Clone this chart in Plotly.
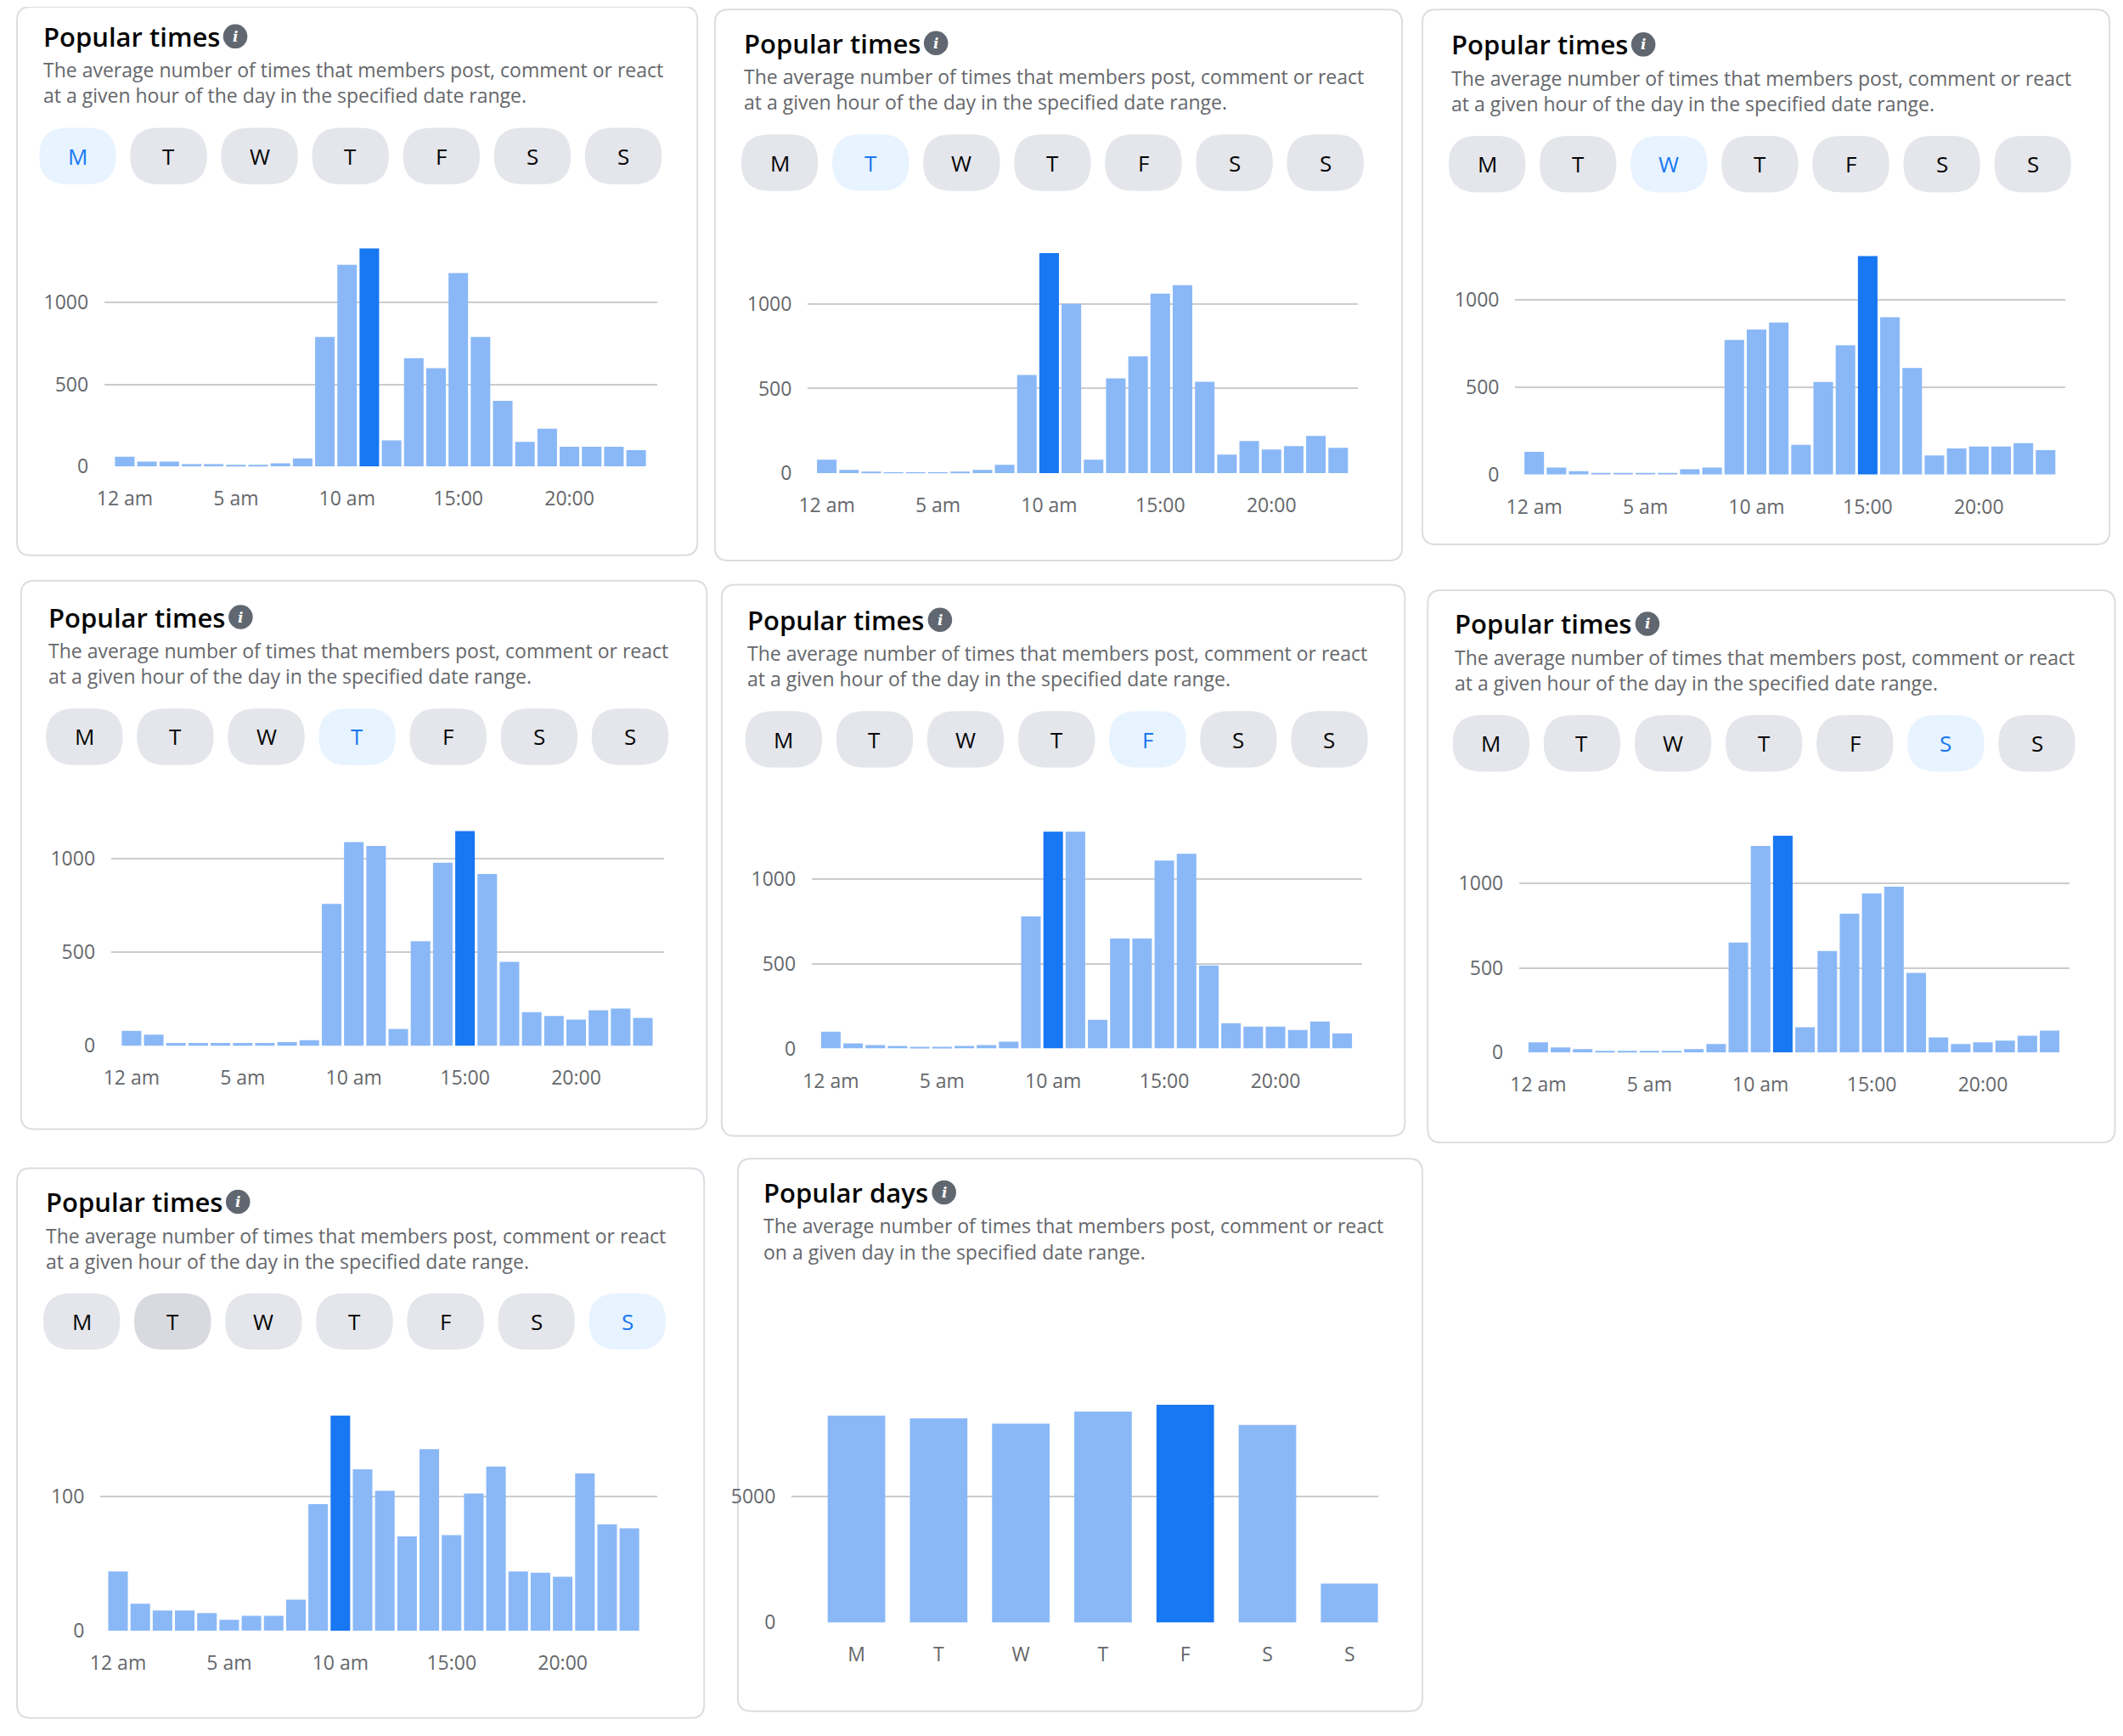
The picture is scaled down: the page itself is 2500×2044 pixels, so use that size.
import plotly.graph_objects as go

# displayed-pixel layout converted to the 2500x2044 canvas
S = 2500 / 1568
W, H = 1568, 2044 / S

hours = list(range(24))
hour_ticks = [0, 5, 10, 15, 20]
hour_labels = ['12 am', '5 am', '10 am', '15:00', '20:00']
day_buttons = ['M', 'T', 'W', 'T', 'F', 'S', 'S']

mon = [60, 30, 30, 15, 15, 10, 10, 20, 50, 790, 1230, 1330, 160, 660, 600, 1180, 790, 400, 150, 230, 120, 120, 120, 100]
tue = [80, 20, 10, 5, 5, 5, 10, 20, 50, 580, 1300, 1000, 80, 560, 690, 1060, 1110, 540, 110, 190, 140, 160, 220, 150]
wed = [130, 40, 20, 10, 10, 10, 10, 30, 40, 770, 830, 870, 170, 530, 740, 1250, 900, 610, 110, 150, 160, 160, 180, 140]
thu = [80, 60, 15, 15, 15, 15, 15, 20, 30, 760, 1090, 1070, 90, 560, 980, 1150, 920, 450, 180, 160, 140, 190, 200, 150]
fri = [100, 30, 20, 15, 10, 10, 15, 20, 40, 780, 1280, 1280, 170, 650, 650, 1110, 1150, 490, 150, 130, 130, 110, 160, 90]
sat = [60, 30, 20, 10, 10, 10, 10, 20, 50, 650, 1220, 1280, 150, 600, 820, 940, 980, 470, 90, 50, 60, 70, 100, 130]
sun = [44, 20, 15, 15, 13, 8, 11, 11, 23, 94, 160, 120, 104, 70, 135, 71, 102, 122, 44, 43, 40, 117, 79, 76]
peak_hours = [11, 10, 15, 15, 10, 11, 10]

days = ['M', 'T', 'W', 'T', 'F', 'S', 'S']
day_totals = [8190, 8080, 7870, 8350, 8620, 7820, 1540]
peak_day = 4

LIGHT = '#8AB8F7'
DARK = '#1877F2'
GREY = '#65676B'
FONT = 'Open Sans'

# panel geometry in displayed pixels
panels = [
    dict(card=(0, 0, 505, 408), tx=18, ty=22, by=111, bx=45, g0=65, g1=475, h0=80, base=342, tp=220),
    dict(card=(518, 2, 1028, 412), tx=538, ty=27, by=116, bx=566, g0=587, g1=995, h0=601, base=347, tp=221),
    dict(card=(1043, 2, 1553, 400), tx=1063, ty=28, by=117, bx=1091, g0=1112, g1=1520, h0=1126, base=348, tp=218),
    dict(card=(3, 427, 512, 835), tx=22, ty=454, by=543, bx=50, g0=70, g1=480, h0=85, base=773, tp=634),
    dict(card=(523, 430, 1030, 840), tx=541, ty=456, by=545, bx=569, g0=590, g1=998, h0=604, base=775, tp=649),
    dict(card=(1047, 434, 1557, 845), tx=1066, ty=459, by=548, bx=1094, g0=1115, g1=1523, h0=1129, base=778, tp=652),
    dict(card=(0, 864, 510, 1273), tx=20, ty=889, by=978, bx=48, g0=62, g1=475, h0=75, base=1208, tp=1108),
]
series = [mon, tue, wed, thu, fri, sat, sun]


def px(x):
    return x / W


def py(y):
    return 1 - y / H


def rrect(x0, y0, x1, y1, r):
    rx, ry = r / W, r / H
    a, b, c, d = px(x0), py(y1), px(x1), py(y0)
    return (f'M {a+rx},{b} L {c-rx},{b} Q {c},{b} {c},{b+ry} L {c},{d-ry} Q {c},{d} {c-rx},{d} '
            f'L {a+rx},{d} Q {a},{d} {a},{d-ry} L {a},{b+ry} Q {a},{b} {a+rx},{b} Z')


def note(x, y, text, font, xanchor='center'):
    return dict(x=x, y=y, xref='paper', yref='paper', text=text, showarrow=False,
                xanchor=xanchor, yanchor='middle', font=font)


fig = go.Figure()
shapes, annots, layout = [], [], {}


def header(p, title, sub2):
    x0, y0, x1, y1 = p['card']
    shapes.append(dict(type='path', path=rrect(x0, y0, x1, y1, 10), xref='paper', yref='paper',
                       line=dict(color='#DADDE1', width=2), fillcolor='white', layer='below'))
    annots.append(note(px(p['tx']), py(p['ty']), title,
                       dict(family=FONT, size=31, color='#050505', weight=600), 'left'))
    ix = p['tx'] + (144 if 'times' in title else 135)
    shapes.append(dict(type='circle', xref='paper', yref='paper', x0=px(ix - 9), x1=px(ix + 9),
                       y0=py(p['ty'] + 9), y1=py(p['ty'] - 9), fillcolor='#606770', line=dict(width=0)))
    annots.append(note(px(ix), py(p['ty']), '<i><b>i</b></i>',
                       dict(family='DejaVu Serif', size=17, color='white')))
    for k, line in enumerate(['The average number of times that members post, comment or react', sub2]):
        annots.append(note(px(p['tx']), py(p['ty'] + 25 + 19 * k), line,
                           dict(family=FONT, size=23, color=GREY), 'left'))


for i, (p, vals) in enumerate(zip(panels, series)):
    n = i + 1
    header(p, 'Popular times', 'at a given hour of the day in the specified date range.')
    for j, d in enumerate(day_buttons):
        cx = p['bx'] + 67.5 * j
        sel = j == i
        fill = '#E7F3FF' if sel else ('#D8DADF' if (i == 6 and j == 1) else '#E4E6EB')
        shapes.append(dict(type='path', path=rrect(cx - 28.5, p['by'] - 21, cx + 28.5, p['by'] + 21, 21),
                           xref='paper', yref='paper', fillcolor=fill, line=dict(width=0)))
        annots.append(note(px(cx), py(p['by']), d,
                           dict(family=FONT, size=26, color=DARK if sel else '#050505', weight=500)))
    step = 100 if i == 6 else 500
    unit = (p['base'] - p['tp']) / (100 if i == 6 else 1000)
    top = p['base'] - 165 if i != 6 else p['base'] - 175
    ymax = (p['base'] - top) / unit
    colors = [DARK if h == peak_hours[i] else LIGHT for h in hours]
    fig.add_bar(x=hours, y=vals, marker=dict(color=colors, line=dict(width=0)), width=0.88,
                xaxis=f'x{n}', yaxis=f'y{n}', showlegend=False)
    dh = 16.5
    layout[f'xaxis{n}'] = dict(domain=[px(p['g0']), px(p['g1'])], anchor=f'y{n}',
                               range=[(p['g0'] - p['h0']) / dh, (p['g1'] - p['h0']) / dh],
                               tickvals=hour_ticks, ticktext=hour_labels, showgrid=False, zeroline=False,
                               showline=False, ticks='', ticklabelstandoff=22,
                               tickfont=dict(family=FONT, size=23, color=GREY))
    layout[f'yaxis{n}'] = dict(domain=[py(p['base']), py(top)], anchor=f'x{n}', range=[0, ymax],
                               dtick=step, showgrid=True, gridcolor='#CCCCCC', gridwidth=1.5,
                               zeroline=False, ticks='', ticklabelstandoff=18,
                               tickfont=dict(family=FONT, size=23, color=GREY))

# popular days panel
p8 = dict(card=(535, 857, 1043, 1268), tx=553, ty=882)
header(p8, 'Popular days', 'on a given day in the specified date range.')
colors = [DARK if k == peak_day else LIGHT for k in range(7)]
fig.add_bar(x=list(range(7)), y=day_totals, marker=dict(color=colors, line=dict(width=0)), width=0.7,
            xaxis='x8', yaxis='y8', showlegend=False)
base8, tp8 = 1202, 1108
top8 = 1030
layout['xaxis8'] = dict(domain=[px(575), px(1010)], anchor='y8', range=[(575 - 623) / 61, (1010 - 623) / 61],
                        tickvals=list(range(7)), ticktext=days, showgrid=False, zeroline=False, ticks='',
                        ticklabelstandoff=22, tickfont=dict(family=FONT, size=23, color=GREY))
layout['yaxis8'] = dict(domain=[py(base8), py(top8)], anchor='x8',
                        range=[0, (base8 - top8) / (base8 - tp8) * 5000], dtick=5000, showgrid=True,
                        gridcolor='#CCCCCC', gridwidth=1.5, zeroline=False, ticks='', ticklabelstandoff=18,
                        tickfont=dict(family=FONT, size=23, color=GREY))

fig.update_layout(width=2500, height=2044, margin=dict(l=0, r=0, t=0, b=0),
                  paper_bgcolor='white', plot_bgcolor='rgba(0,0,0,0)',
                  shapes=shapes, annotations=annots, bargap=0.1, **layout)
fig.write_html('out.html')
